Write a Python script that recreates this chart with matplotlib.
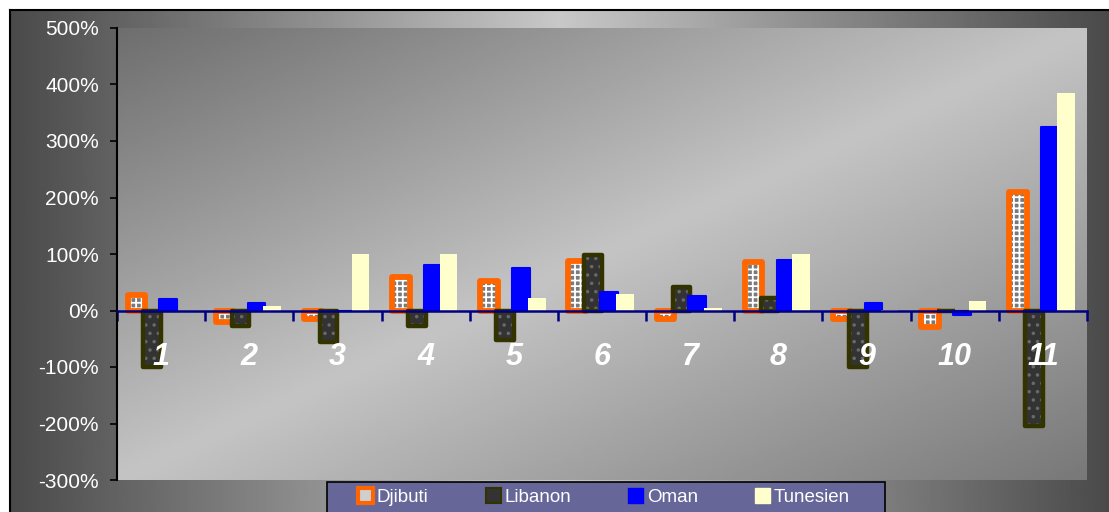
import numpy as np
import matplotlib
matplotlib.use("Agg")
import matplotlib.pyplot as plt
from matplotlib.patches import Patch, Rectangle

plt.rcParams['font.family'] = ['Liberation Sans', 'DejaVu Sans']
plt.rcParams['hatch.linewidth'] = 1.3

# Daten
kategorien = ["1", "2", "3", "4", "5", "6", "7", "8", "9", "10", "11"]
djibuti = [28, -20, -15, 60, 53, 87, -15, 85, -15, -30, 210]
libanon = [-100, -28, -55, -28, -53, 98, 42, 22, -100, 0, -205]
oman = [20, 14, 0, 80, 76, 33, 25, 90, 13, -8, 325]
tunesien = [0, 8, 100, 100, 23, 30, 4, 100, 1, 16, 385]
y_ticks = [-300, -200, -100, 0, 100, 200, 300, 400, 500]

W, H = 1109, 512
fig = plt.figure(figsize=(W / 100, H / 100), dpi=100, facecolor='white')

# Hintergrund mit Verlauf (horizontal, hell in der Mitte)
bg = fig.add_axes([10 / W, 0, 1 - 10 / W, 1 - 10 / H])
xx = np.linspace(0, 1, 600)
v = (0x4a + (0xc8 - 0x4a) * (1 - np.abs(2 * xx - 1))) / 255
bg.imshow(np.tile(v, (10, 1)), cmap='gray', vmin=0, vmax=1, aspect='auto',
          extent=[0, 1, 0, 1])
bg.set_xticks([])
bg.set_yticks([])
for k, s in bg.spines.items():
    s.set_color('black')
    s.set_linewidth(1.5)
    if k in ('right', 'bottom'):
        s.set_visible(False)

# Diagramm
ax = fig.add_axes([117 / W, 1 - 480 / H, 970 / W, 452 / H])
gx, gy = np.meshgrid(np.linspace(0, 1, 400), np.linspace(0, 1, 200))
u = gx + gy
dark = np.where(u < 1, 0x6e, 0x78)
grad = (0xc4 - (0xc4 - dark) * np.abs(u - 1)) / 255
ax.imshow(grad, cmap='gray', vmin=0, vmax=1, aspect='auto',
          extent=[0, 1, 0, 1], transform=ax.transAxes, zorder=0)

x = np.arange(len(kategorien))
w = 0.2
off = (np.arange(4) - 1.5) * 0.18 - 0.01

# Djibuti: Karomuster + dicker orangefarbener Rand
ax.bar(x + off[0], djibuti, w, facecolor='#7a7a7a', edgecolor='white',
       hatch='+++', linewidth=0, zorder=1)
ax.bar(x + off[0], djibuti, w, fill=False, edgecolor='#ff6600',
       linewidth=4.2, joinstyle='round', zorder=1)
# Libanon
ax.bar(x + off[1], libanon, w, facecolor='#333333', edgecolor='#6a6a6a',
       hatch='..', linewidth=0, zorder=1)
ax.bar(x + off[1], libanon, w, fill=False, edgecolor='#333300',
       linewidth=3.2, joinstyle='round', zorder=1)
# Oman
ax.bar(x + off[2], oman, w, color='#0000ff', edgecolor='#0000ff',
       linewidth=1.5, joinstyle='round', zorder=1)
# Tunesien
ax.bar(x + off[3], tunesien, w, color='#ffffcc', linewidth=0, zorder=1)

ax.set_xlim(-0.5, len(kategorien) - 0.5)
ax.set_ylim(-300, 500)

ax.spines['top'].set_visible(False)
ax.spines['right'].set_visible(False)
ax.spines['left'].set_color('black')
ax.spines['left'].set_linewidth(1.5)
ax.spines['bottom'].set_position(('data', 0))
ax.spines['bottom'].set_color('#000080')
ax.spines['bottom'].set_linewidth(1.8)

ax.set_yticks(y_ticks, labels=[f"{t}%" for t in y_ticks])
ax.tick_params(axis='y', colors='black', labelcolor='white', labelsize=15,
               length=5, width=1.2, pad=8)

ax.set_xticks(np.arange(len(kategorien) + 1) - 0.5, labels=[])
ax.tick_params(axis='x', which='major', colors='#000080', length=7, width=1.8,
               direction='out')
ax.set_xticks(x, labels=kategorien, minor=True)
ax.tick_params(axis='x', which='minor', length=0, pad=23, labelcolor='white',
               labelsize=22)
for lbl in ax.get_xticklabels(minor=True):
    lbl.set_fontweight('bold')
    lbl.set_fontstyle('italic')

# Legende
fig.patches.append(Rectangle((327 / W, 1 - 514 / H), (885 - 327) / W, 32 / H,
                             transform=fig.transFigure, facecolor='#666699',
                             edgecolor='black', linewidth=1.2, zorder=5))
handles = [
    Patch(facecolor='#cfcfcf', edgecolor='#ff6600', linewidth=3),
    Patch(facecolor='#333333', edgecolor='#333300', linewidth=1.5),
    Patch(facecolor='#0000ff', edgecolor='#0000ff'),
    Patch(facecolor='#ffffcc', edgecolor='#ffffcc'),
]
leg = fig.legend(handles, ["Djibuti", "Libanon", "Oman", "Tunesien"],
                 loc='center', bbox_to_anchor=(604 / W, 1 - 497 / H),
                 ncol=4, frameon=False, fontsize=13.5, labelcolor='white',
                 handlelength=0.8, handleheight=0.8, handletextpad=0.2,
                 columnspacing=3.05)
leg.set_zorder(6)

fig.savefig("out.png", dpi=100)
